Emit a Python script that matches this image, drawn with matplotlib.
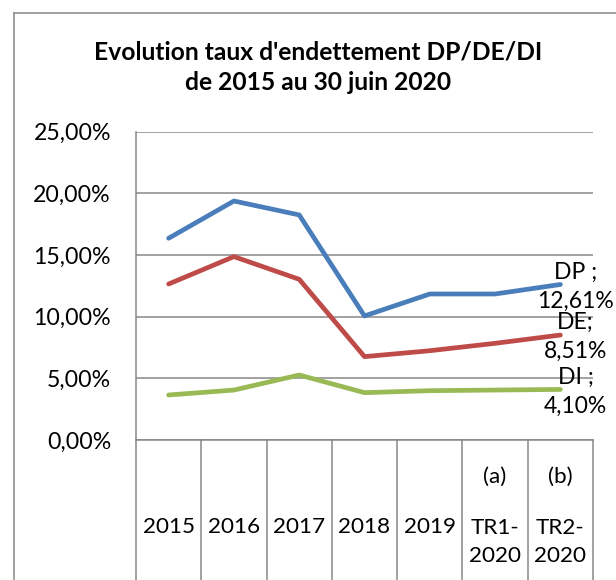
import matplotlib.pyplot as plt
from matplotlib.lines import Line2D
from matplotlib.transforms import blended_transform_factory

plt.rcParams['font.family'] = ['Lato', 'DejaVu Sans']

# data (en %)
categories = ["2015", "2016", "2017", "2018", "2019", "TR1-\n2020", "TR2-\n2020"]
notes = ["", "", "", "", "", "(a)", "(b)"]
dp = [16.36, 19.38, 18.25, 10.06, 11.84, 11.84, 12.61]
de = [12.65, 14.87, 13.03, 6.76, 7.24, 7.84, 8.51]
di = [3.65, 4.05, 5.27, 3.84, 4.00, 4.05, 4.10]
series_names = ["DP ;", "DE;", "DI ;"]
colors = ["#4A7EBB", "#BE4B48", "#98B954"]
grey = "#878787"

W, H = 616, 580
fig = plt.figure(figsize=(W / 100, H / 100), dpi=100)
ax = fig.add_axes([136 / W, (H - 440) / H, (593 - 136) / W, (440 - 131.7) / H])

x = list(range(len(categories)))
for vals, name, c in zip([dp, de, di], series_names, colors):
    ax.plot(x, vals, color=c, lw=3.4, solid_capstyle='round', solid_joinstyle='round', zorder=3)
    lab = f"{name}\n{vals[-1]:.2f}%".replace('.', ',')
    ax.annotate(lab, (x[-1], vals[-1]), xytext=(11, -1.5), textcoords='offset points',
                ha='center', va='center', fontsize=16.5, linespacing=1.45, zorder=4)

ax.set_xlim(-0.5, len(categories) - 0.5)
ax.set_ylim(0, 25)
ax.set_yticks([0, 5, 10, 15, 20, 25])
ax.set_yticklabels([f"{v:.2f}%".replace('.', ',') for v in [0, 5, 10, 15, 20, 25]], fontsize=16.7)
ax.tick_params(axis='y', length=0, pad=18)
ax.set_xticks([])
ax.grid(axis='y', color=grey, lw=1.1)
for s in ['top', 'right', 'bottom']:
    ax.spines[s].set_visible(False)
ax.spines['left'].set_color(grey)
ax.spines['left'].set_linewidth(1.1)

# table-like category area below the axis
tr = blended_transform_factory(ax.transData, fig.transFigure)
y0 = (H - 440) / H
for b in range(len(categories) + 1):
    ax.add_line(Line2D([b - 0.5, b - 0.5], [y0, -0.05], transform=tr, color=grey, lw=1.1, clip_on=False))
ax.add_line(Line2D([-0.5, len(categories) - 0.5], [y0, y0], transform=tr, color=grey, lw=1.1, clip_on=False))
for i, (cat, n) in enumerate(zip(categories, notes)):
    yc = 542 if '\n' in cat else 527
    ax.text(i, (H - yc) / H, cat, transform=tr, ha='center', va='center',
            fontsize=16.2, linespacing=1.45)
    if n:
        ax.text(i, (H - 477) / H, n, transform=tr, ha='center', va='center', fontsize=16.2)

# title
fig.text(318 / W, (H - 52) / H, "Evolution taux d'endettement DP/DE/DI", ha='center', va='center',
         fontsize=17.7, fontweight='bold')
fig.text(318 / W, (H - 83) / H, "de 2015 au 30 juin 2020", ha='center', va='center',
         fontsize=17.7, fontweight='bold')

# chart border
fig.add_artist(Line2D([14 / W, 14 / W], [(H - 13) / H, -0.05], color=grey, lw=1.1))
fig.add_artist(Line2D([14 / W, 1.05], [(H - 13) / H, (H - 13) / H], color=grey, lw=1.1))

fig.savefig("out.png", dpi=100)
